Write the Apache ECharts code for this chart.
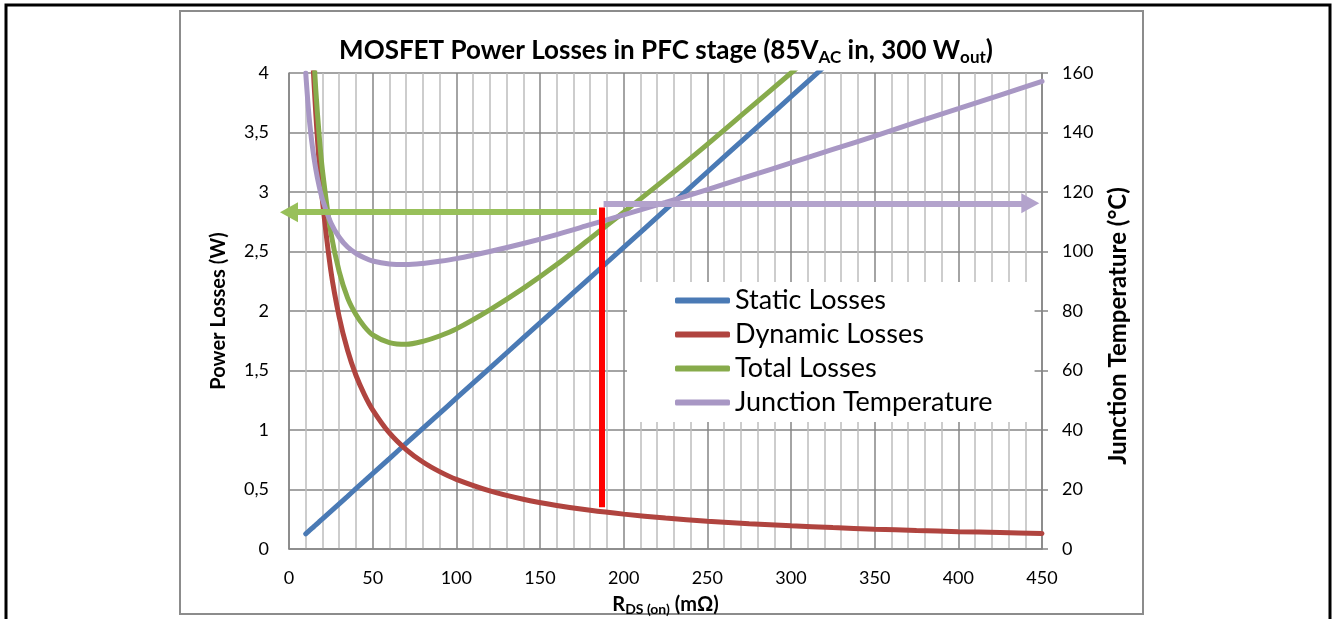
<!DOCTYPE html>
<html>
<head>
<meta charset="utf-8">
<script src="https://cdn.jsdelivr.net/npm/echarts@6/dist/echarts.min.js"></script>
<style>
  html, body { margin: 0; padding: 0; background: #fff; }
  #chart { width: 1332px; height: 619px; }
</style>
</head>
<body>
<div id="chart"></div>
<script>
// R_DS(on) in mOhm
const rds = [10, 12, 14, 16, 18, 20, 25, 30, 35, 40, 45, 50, 60, 70, 80, 90, 100, 120, 140, 160, 180, 200, 225, 250, 275, 300, 325, 350, 375, 400, 425, 450]
// losses in W
const staticLosses = [0.127, 0.152, 0.177, 0.203, 0.228, 0.253, 0.317, 0.38, 0.443, 0.507, 0.57, 0.634, 0.76, 0.887, 1.014, 1.14, 1.267, 1.52, 1.774, 2.027, 2.281, 2.534, 2.851, 3.168, 3.484, 3.801, 4.118, 4.435, 4.751, 5.068, 5.385, 5.702]
const dynamicLosses = [5.85, 4.875, 4.18, 3.66, 3.25, 2.925, 2.34, 1.95, 1.67, 1.46, 1.3, 1.17, 0.975, 0.836, 0.731, 0.65, 0.585, 0.488, 0.418, 0.366, 0.325, 0.293, 0.26, 0.234, 0.213, 0.195, 0.18, 0.167, 0.156, 0.146, 0.138, 0.13]
const totalLosses = [5.98, 5.03, 4.36, 3.86, 3.48, 3.18, 2.66, 2.33, 2.11, 1.97, 1.87, 1.8, 1.735, 1.72, 1.745, 1.79, 1.85, 2.01, 2.19, 2.39, 2.61, 2.83, 3.11, 3.4, 3.7, 4.0, 4.3, 4.6, 4.91, 5.21, 5.52, 5.83]
// junction temperature in degC (right axis)
const junctionTemp = [160, 145.3, 135.2, 127.7, 122, 117.5, 109.7, 104.8, 101.5, 99.4, 97.9, 96.8, 95.8, 95.6, 96, 96.7, 97.6, 100, 102.7, 105.7, 109, 112.3, 116.5, 120.8, 125.3, 129.8, 134.3, 138.8, 143.5, 148, 152.6, 157.2]

// operating point markers
const markerRds = 187
const markerLoss = 2.83
const markerLossBottom = 0.35
const markerLossTop = 2.87
const markerTemp = 116.2
const arrowEndRds = 443

const FONT = 'Lato, "Open Sans", sans-serif'
const colors = ['#4a7ab5', '#b0443f', '#87ab4b', '#a897c4']

const pairs = vals => rds.map((r, i) => [r, vals[i]])

const chart = echarts.init(document.getElementById('chart'))

const lineSeries = (name, vals, color, yAxisIndex) => ({
  name,
  type: 'line',
  yAxisIndex,
  data: pairs(vals),
  smooth: 0.3,
  showSymbol: false,
  symbol: 'none',
  lineStyle: { color, width: 5, cap: 'round' },
  itemStyle: { color },
  z: 3
})

const option = {
  animation: false,
  textStyle: { fontFamily: FONT },
  title: {
    text: 'MOSFET Power Losses in PFC stage (85V{sub|AC} in, 300 W{sub|out})',
    left: 'center',
    top: 31,
    textStyle: {
      fontFamily: FONT,
      fontSize: 26,
      fontWeight: 'bold',
      color: '#000',
      rich: {
        sub: { fontFamily: FONT, fontSize: 17, fontWeight: 'bold', color: '#000', padding: [13, 0, 0, 0] }
      }
    }
  },
  legend: {
    orient: 'vertical',
    left: 627,
    top: 282,
    padding: [3, 42, 4, 48],
    backgroundColor: '#fff',
    icon: 'roundRect',
    itemWidth: 55,
    itemHeight: 6,
    itemGap: 3,
    textStyle: { fontFamily: FONT, fontSize: 27, color: '#000', lineHeight: 31 },
    data: ['Static Losses', 'Dynamic Losses', 'Total Losses', 'Junction Temperature'],
    z: 10
  },
  grid: { left: 289, right: 290, top: 73, bottom: 70, containLabel: false, outerBoundsMode: 'none' },
  xAxis: {
    type: 'value',
    min: 0,
    max: 450,
    interval: 50,
    name: 'R{sub|DS (on)} (mΩ)',
    nameLocation: 'middle',
    nameGap: 44,
    nameTextStyle: {
      fontFamily: FONT, fontSize: 20, fontWeight: 'bold', color: '#000',
      rich: { sub: { fontFamily: FONT, fontSize: 14, fontWeight: 'bold', color: '#000', padding: [9, 0, 0, 0] } }
    },
    axisLine: { show: true, lineStyle: { color: '#868686', width: 1.5 } },
    axisTick: { show: false },
    axisLabel: { fontFamily: FONT, fontSize: 18, color: '#000', margin: 20 },
    splitLine: { show: true, lineStyle: { color: '#868686', width: 1.5 } },
    minorTick: { show: false, splitNumber: 5 },
    minorSplitLine: { show: true, lineStyle: { color: '#bdbdbd', width: 1.5 } }
  },
  yAxis: [
    {
      type: 'value',
      min: 0,
      max: 4,
      interval: 0.5,
      name: 'Power Losses (W)',
      nameLocation: 'middle',
      nameGap: 60,
      nameTextStyle: { fontFamily: FONT, fontSize: 20, fontWeight: 'bold', color: '#000' },
      axisLine: { show: true, lineStyle: { color: '#868686', width: 1.5 } },
      axisTick: { show: false },
      axisLabel: {
        fontFamily: FONT, fontSize: 18, color: '#000', margin: 20,
        formatter: v => String(v).replace('.', ',')
      },
      splitLine: { show: true, lineStyle: { color: '#868686', width: 1.5 } }
    },
    {
      type: 'value',
      min: 0,
      max: 160,
      interval: 20,
      position: 'right',
      name: 'Junction Temperature (°C)',
      nameLocation: 'middle',
      nameGap: 64,
      nameTextStyle: { fontFamily: FONT, fontSize: 24, fontWeight: 'bold', color: '#000', padding: [0, 30, 0, 0] },
      axisLine: { show: true, lineStyle: { color: '#868686', width: 1.5 } },
      axisTick: { show: true, inside: false, length: 6, lineStyle: { color: '#868686', width: 1.5 } },
      axisLabel: { fontFamily: FONT, fontSize: 18, color: '#000', margin: 20 },
      splitLine: { show: false }
    }
  ],
  graphic: [
    // outer black page frame
    {
      type: 'polyline',
      shape: { points: [[6, 619], [6, 5], [1330, 5], [1330, 619]] },
      style: { stroke: '#000', lineWidth: 3, fill: null },
      silent: true
    },
    // gray chart frame
    {
      type: 'rect',
      shape: { x: 180, y: 11, width: 963, height: 603 },
      style: { stroke: '#8c8c8c', lineWidth: 2, fill: null },
      silent: true
    }
  ],
  series: [
    Object.assign(lineSeries('Static Losses', staticLosses, colors[0], 0), {
      markLine: {
        silent: true,
        animation: false,
        symbol: ['none', 'none'],
        label: { show: false },
        lineStyle: { color: '#ff0000', width: 6, type: 'solid' },
        data: [[{ coord: [markerRds, markerLossBottom] }, { coord: [markerRds, markerLossTop] }]],
        z: 5
      }
    }),
    lineSeries('Dynamic Losses', dynamicLosses, colors[1], 0),
    Object.assign(lineSeries('Total Losses', totalLosses, colors[2], 0), {
      markLine: {
        silent: true,
        animation: false,
        symbol: ['none', 'triangle'],
        symbolSize: [20, 18],
        label: { show: false },
        lineStyle: { color: '#98c05a', width: 6, type: 'solid' },
        itemStyle: { color: '#98c05a' },
        data: [[{ coord: [markerRds - 3, markerLoss] }, { coord: [0, markerLoss] }]],
        z: 4
      }
    }),
    Object.assign(lineSeries('Junction Temperature', junctionTemp, colors[3], 1), {
      markLine: {
        silent: true,
        animation: false,
        symbol: ['none', 'triangle'],
        symbolSize: [20, 18],
        label: { show: false },
        lineStyle: { color: '#b3a3cc', width: 6, type: 'solid' },
        itemStyle: { color: '#b3a3cc' },
        data: [[{ coord: [markerRds + 1, markerTemp] }, { coord: [arrowEndRds, markerTemp] }]],
        z: 4
      }
    })
  ]
}

chart.setOption(option)
window.addEventListener('resize', () => chart.resize())
</script>
</body>
</html>
